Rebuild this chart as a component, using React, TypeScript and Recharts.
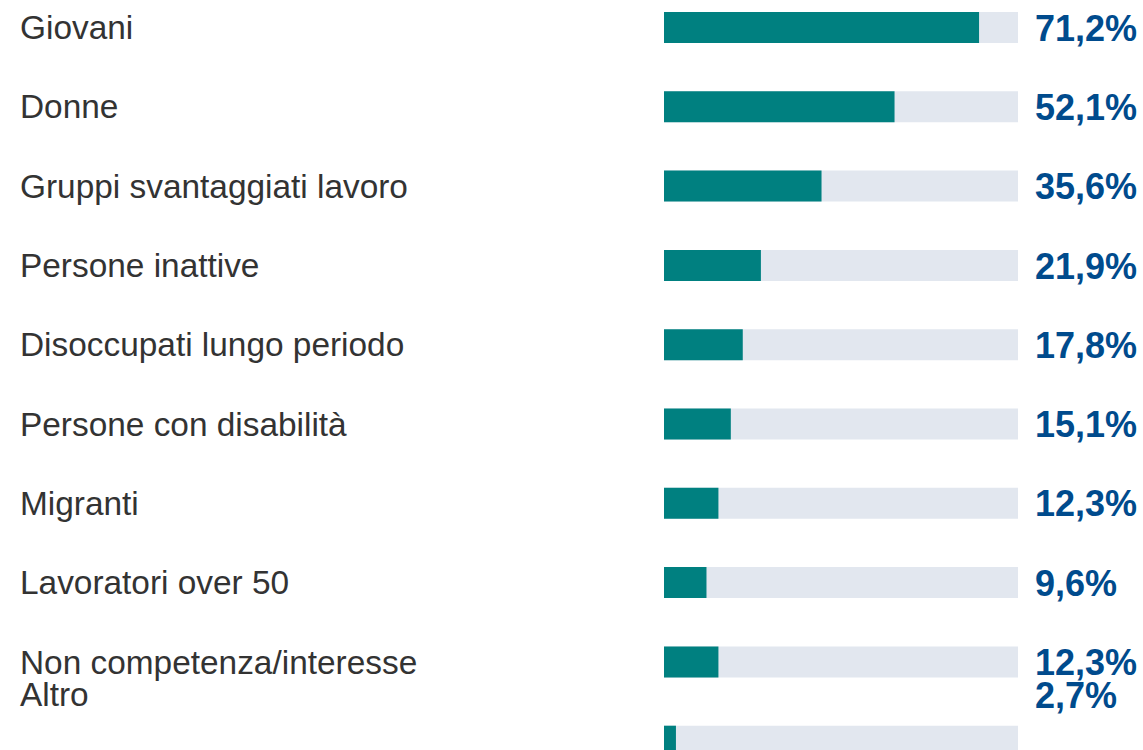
import React from 'react';
import { BarChart, Bar, XAxis, YAxis } from 'recharts';

const categories = [
  'Giovani',
  'Donne',
  'Gruppi svantaggiati lavoro',
  'Persone inattive',
  'Disoccupati lungo periodo',
  'Persone con disabilità',
  'Migranti',
  'Lavoratori over 50',
  'Non competenza/interesse',
  'Altro',
];
const values = [71.2, 52.1, 35.6, 21.9, 17.8, 15.1, 12.3, 9.6, 12.3, 2.7];
const valueLabels = ['71,2%', '52,1%', '35,6%', '21,9%', '17,8%', '15,1%', '12,3%', '9,6%', '12,3%', '2,7%'];

const data = categories.map((name, i) => ({ name, value: values[i], label: valueLabels[i] }));

const LAST_SHIFT = -46.5;

const LeftTick = (props: any) => {
  const { y, payload } = props;
  const idx = payload.index;
  const yy = idx === categories.length - 1 ? y + LAST_SHIFT : y;
  return (
    <text x={20} y={yy + 11.5} fill="#333333" fontSize={33.4} fontFamily="Liberation Sans, Arial, sans-serif" textAnchor="start">
      {payload.value}
    </text>
  );
};

const RightTick = (props: any) => {
  const { x, y, payload } = props;
  const idx = payload.index;
  const yy = idx === categories.length - 1 ? y + LAST_SHIFT : y;
  return (
    <text x={x + 9} y={yy + 13} fill="#004b8d" fontSize={36} fontWeight="bold" fontFamily="Liberation Sans, Arial, sans-serif" textAnchor="start">
      {valueLabels[idx]}
    </text>
  );
};

export default function App() {
  return (
    <div style={{ position: 'absolute', left: 0, top: -12 }}>
      <BarChart
        width={1143}
        height={793}
        data={data}
        layout="vertical"
        margin={{ top: 0, right: 0, bottom: 0, left: 0 }}
        barSize={31}
      >
        <XAxis type="number" domain={[0, 80]} hide />
        <YAxis
          yAxisId="left"
          type="category"
          dataKey="name"
          width={664}
          axisLine={false}
          tickLine={false}
          tick={<LeftTick />}
          interval={0}
        />
        <YAxis
          yAxisId="right"
          orientation="right"
          type="category"
          dataKey="name"
          width={125}
          axisLine={false}
          tickLine={false}
          tick={<RightTick />}
          interval={0}
        />
        <Bar
          yAxisId="left"
          dataKey="value"
          fill="#008080"
          background={{ fill: '#e2e7ef' }}
          isAnimationActive={false}
        />
      </BarChart>
    </div>
  );
}
